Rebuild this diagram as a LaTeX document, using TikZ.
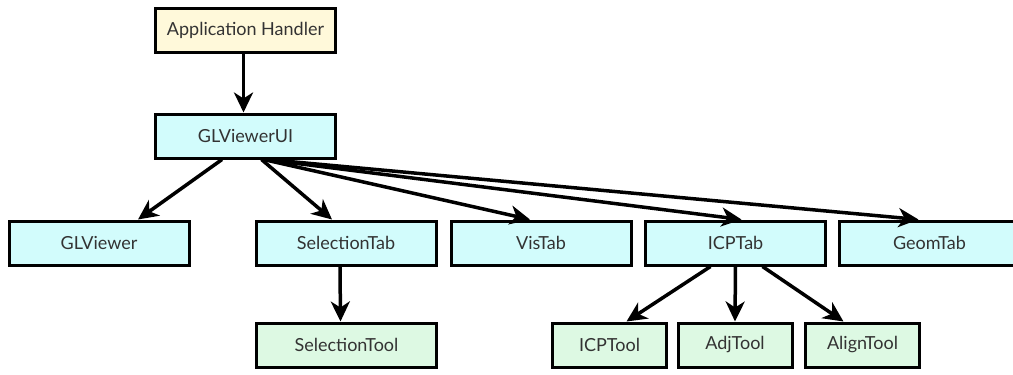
\documentclass[tikz,border=0pt]{standalone}
\usepackage{fontspec}
\setmainfont{Lato}
\usetikzlibrary{arrows.meta}
\definecolor{handlerfill}{HTML}{FFF9DA}
\definecolor{tabfill}{HTML}{D2FCFC}
\definecolor{toolfill}{HTML}{DDF9E3}
\definecolor{labeltext}{HTML}{333333}
\tikzset{
  box/.style={draw=black, line width=3pt, minimum height=44pt, inner sep=0pt,
    text=labeltext, font=\fontsize{18}{21}\selectfont},
  widebox/.style={box, minimum width=180pt},
  smallbox/.style={box, minimum width=114pt},
  handler/.style={widebox, fill=handlerfill},
  tab/.style={widebox, fill=tabfill},
  tool/.style={smallbox, fill=toolfill},
  seltoolbox/.style={widebox, fill=toolfill},
  link/.style={line width=3.5pt, -{Stealth[length=20pt,width=19pt,inset=6pt]}}
}
\begin{document}
\begin{tikzpicture}[x=1pt,y=-1pt]
\useasboundingbox (0,0) rectangle (1013,375);
% top of the hierarchy
\node[handler] (app) at (245.5,30) {Application Handler};
\node[tab] (ui) at (245.5,136) {GLViewerUI};
% viewer and tabs
\node[tab] (glv) at (99,243) {GLViewer};
\node[tab] (sel) at (346,243) {SelectionTab};
\node[tab] (vis) at (541,243) {VisTab};
\node[tab] (icp) at (735.5,243) {ICPTab};
\node[tab] (geom) at (929.5,243) {GeomTab};
% tools
\node[seltoolbox] (seltool) at (346.5,345) {SelectionTool};
\node[tool] (icptool) at (609.5,345) {ICPTool};
\node[tool] (adjtool) at (735,345) {AdjTool};
\node[tool] (aligntool) at (862.5,345) {AlignTool};
% connectors
\draw[link] ([xshift=-2pt]app.south) -- ([xshift=-2pt]ui.north);
\draw[link] ([xshift=-23.5pt]ui.south) -- ([xshift=39pt]glv.north);
\draw[link] ([xshift=16pt]ui.south) -- ([xshift=-14pt]sel.north);
\draw[link] ([xshift=18pt]ui.south) -- ([xshift=-11pt]vis.north);
\draw[link] ([xshift=20pt]ui.south) -- ([xshift=6pt]icp.north);
\draw[link] ([xshift=22pt]ui.south) -- ([xshift=-11pt]geom.north);
\draw[link] ([xshift=-6pt]sel.south) -- ([xshift=-6pt]seltool.north);
\draw[link] ([xshift=-25pt]icp.south) -- ([xshift=17pt]icptool.north);
\draw[link] (icp.south) -- (adjtool.north);
\draw[link] ([xshift=27pt]icp.south) -- ([xshift=-19pt]aligntool.north);
\end{tikzpicture}
\end{document}
